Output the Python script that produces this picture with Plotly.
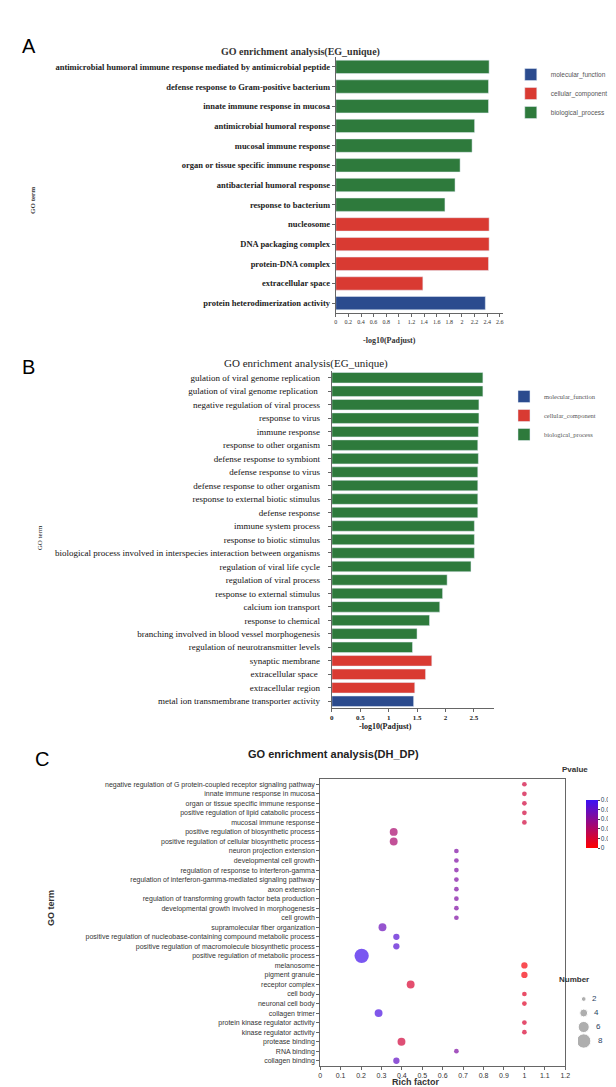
import plotly.graph_objects as go

# ---- panel A data ----
a_terms = ["antimicrobial humoral immune response mediated by antimicrobial peptide",
           "defense response to Gram-positive bacterium", "innate immune response in mucosa",
           "antimicrobial humoral response", "mucosal immune response",
           "organ or tissue specific immune response", "antibacterial humoral response",
           "response to bacterium", "nucleosome", "DNA packaging complex",
           "protein-DNA complex", "extracellular space", "protein heterodimerization activity"]
a_values = [2.43, 2.42, 2.42, 2.20, 2.16, 1.97, 1.89, 1.73, 2.43, 2.43, 2.42, 1.38, 2.37]
a_class = ["BP"] * 8 + ["CC"] * 4 + ["MF"]

# ---- panel B data ----
b_terms = ["gulation of viral genome replication", "gulation of viral genome replication ",
           "negative regulation of viral process", "response to virus", "immune response",
           "response to other organism", "defense response to symbiont",
           "defense response to virus", "defense response to other organism",
           "response to external biotic stimulus", "defense response", "immune system process",
           "response to biotic stimulus",
           "biological process involved in interspecies interaction between organisms",
           "regulation of viral life cycle", "regulation of viral process",
           "response to external stimulus", "calcium ion transport", "response to chemical",
           "branching involved in blood vessel morphogenesis",
           "regulation of neurotransmitter levels", "synaptic membrane",
           "extracellular space ", "extracellular region",
           "metal ion transmembrane transporter activity"]
b_values = [2.66, 2.66, 2.59, 2.59, 2.58, 2.57, 2.58, 2.57, 2.57, 2.57, 2.57, 2.51, 2.51,
            2.51, 2.45, 2.03, 1.95, 1.90, 1.72, 1.50, 1.42, 1.76, 1.65, 1.46, 1.44]
b_class = ["BP"] * 21 + ["CC"] * 3 + ["MF"]

# ---- panel C data ----
c_terms = ["negative regulation of G protein-coupled receptor signaling pathway",
           "innate immune response in mucosa", "organ or tissue specific immune response",
           "positive regulation of lipid catabolic process", "mucosal immune response",
           "positive regulation of biosynthetic process",
           "positive regulation of cellular biosynthetic process",
           "neuron projection extension", "developmental cell growth",
           "regulation of response to interferon-gamma",
           "regulation of interferon-gamma-mediated signaling pathway", "axon extension",
           "regulation of transforming growth factor beta production",
           "developmental growth involved in morphogenesis", "cell growth",
           "supramolecular fiber organization",
           "positive regulation of nucleobase-containing compound metabolic process",
           "positive regulation of macromolecule biosynthetic process",
           "positive regulation of metabolic process", "melanosome", "pigment granule",
           "receptor complex", "cell body", "neuronal cell body", "collagen trimer",
           "protein kinase regulator activity", "kinase regulator activity",
           "protease binding", "RNA binding", "collagen binding"]
c_rich = [1.0, 1.0, 1.0, 1.0, 1.0, 0.36, 0.36, 0.667, 0.667, 0.667, 0.667, 0.667, 0.667,
          0.667, 0.667, 0.305, 0.373, 0.373, 0.203, 1.0, 1.0, 0.443, 1.0, 1.0, 0.286,
          1.0, 1.0, 0.398, 0.667, 0.373]
c_number = [2, 2, 2, 2, 2, 4, 4, 2, 2, 2, 2, 2, 2, 2, 2, 4, 3, 3, 8, 3, 3, 4, 2, 2, 4,
            2, 2, 4, 2, 3]
c_pvalue = [0.012, 0.012, 0.012, 0.012, 0.012, 0.022, 0.022, 0.033, 0.033, 0.033, 0.033,
            0.033, 0.033, 0.033, 0.033, 0.038, 0.043, 0.043, 0.048, 0.002, 0.002, 0.010,
            0.008, 0.008, 0.046, 0.010, 0.010, 0.012, 0.033, 0.040]
size_legend = [2, 4, 6, 8]
pvalue_ticks = [0, 0.01, 0.02, 0.03, 0.04, 0.05]

W, H = 616, 1087
colors = {"MF": "#2b4b8e", "CC": "#d93a32", "BP": "#2e7a3c"}
names = {"MF": "molecular_function", "CC": "cellular_component", "BP": "biological_process"}
serif = "Liberation Serif"
sans = "Liberation Sans"


def px(x):
    return x / W


def py(y):
    return 1 - y / H


def dot(n):
    return 1.6 * n + 1.5


fig = go.Figure()

for cls in ["MF", "CC", "BP"]:
    ta = [t for t, c in zip(a_terms, a_class) if c == cls]
    va = [v for v, c in zip(a_values, a_class) if c == cls]
    fig.add_trace(go.Bar(x=va, y=ta, orientation="h", marker_color=colors[cls],
                         name=names[cls], xaxis="x", yaxis="y", legend="legend",
                         width=0.68))
for cls in ["MF", "CC", "BP"]:
    tb = [t for t, c in zip(b_terms, b_class) if c == cls]
    vb = [v for v, c in zip(b_values, b_class) if c == cls]
    fig.add_trace(go.Bar(x=vb, y=tb, orientation="h", marker_color=colors[cls],
                         name=names[cls], xaxis="x2", yaxis="y2", legend="legend2",
                         width=0.78))

fig.add_trace(go.Scatter(
    x=c_rich, y=c_terms, mode="markers", xaxis="x3", yaxis="y3", showlegend=False,
    marker=dict(size=[dot(n) for n in c_number], color=c_pvalue, cmin=0, cmax=0.05,
                colorscale=[[0, "#ff0000"], [1, "#3a10f5"]], line_width=0,
                colorbar=dict(x=px(582), xanchor="left", y=py(816), len=68 / H,
                              thickness=12, outlinewidth=0, tickvals=pvalue_ticks,
                              ticktext=[f"{v:g}" for v in pvalue_ticks],
                              ticks="outside", ticklen=2,
                              tickfont=dict(size=6.5, family=sans)))))

fig.add_trace(go.Scatter(
    x=[0] * 4, y=size_legend, mode="markers+text", xaxis="x4", yaxis="y4", showlegend=False,
    marker=dict(size=[dot(n) for n in size_legend], color="#8c8c8c"),
    text=["  " + str(n) for n in size_legend], textposition="middle right",
    textfont=dict(size=8, family=sans)))

axis_common = dict(showline=True, linecolor="#666", linewidth=1, ticks="outside",
                   ticklen=3, tickcolor="#666", showgrid=False, zeroline=False)

fig.update_layout(
    width=W, height=H, margin=dict(l=0, r=0, t=0, b=0),
    paper_bgcolor="white", plot_bgcolor="white", bargap=0.3,
    xaxis=dict(domain=[px(335), px(507)], range=[0, 2.65], anchor="y",
               tickvals=[i / 5 for i in range(14)],
               ticktext=["0", "0.2", "0.4", "0.6", "0.8", "1", "1.2", "1.4", "1.6", "1.8", "2",
                         "2.2", "2.4", "2.6"],
               tickfont=dict(size=6, family=serif, color="#333"), **axis_common),
    yaxis=dict(domain=[py(305), py(49)], anchor="x", categoryorder="array",
               categoryarray=a_terms, autorange="reversed",
               tickfont=dict(size=8.5, family=serif, color="#222", weight="bold"),
               **axis_common),
    xaxis2=dict(domain=[px(331), px(498)], range=[0, 2.86], anchor="y2",
                tickvals=[0, 0.5, 1, 1.5, 2, 2.5], ticktext=["0", "0.5", "1", "1.5", "2", "2.5"],
                tickfont=dict(size=7, family=serif, color="#222", weight="bold"),
                **axis_common),
    yaxis2=dict(domain=[py(700), py(363)], anchor="x2", categoryorder="array",
                categoryarray=b_terms, autorange="reversed", ticklabelstandoff=6,
                tickfont=dict(size=9, family=serif, color="#111"), **axis_common),
    xaxis3=dict(domain=[px(319), px(571)], range=[0, 1.2], anchor="y3", dtick=0.1,
                tickformat="~g", mirror=True,
                tickfont=dict(size=7, family=sans, color="#333"), **axis_common),
    yaxis3=dict(domain=[py(1058), py(771)], anchor="x3", categoryorder="array",
                categoryarray=c_terms, range=[29.55, -0.55], mirror=True,
                tickfont=dict(size=7, family=sans, color="#333"), **axis_common),
    xaxis4=dict(domain=[px(584), px(614)], range=[-1, 4], visible=False, anchor="y4"),
    yaxis4=dict(domain=[py(1040), py(984)], range=[9, 1], visible=False, anchor="x4"),
    legend=dict(x=px(515), y=py(52), xanchor="left", yanchor="top", traceorder="normal",
                font=dict(size=6.5, family=sans, color="#555"), itemwidth=30,
                tracegroupgap=0, bgcolor="rgba(0,0,0,0)"),
    legend2=dict(x=px(508), y=py(374), xanchor="left", yanchor="top", traceorder="normal",
                 font=dict(size=6.5, family=serif, color="#555"), itemwidth=30,
                 tracegroupgap=0, bgcolor="rgba(0,0,0,0)"),
)

ann = [
    ("A", 10, 25, 20, sans, "normal", "#000"),
    ("B", 10, 346, 20, sans, "normal", "#000"),
    ("C", 24, 764, 20, sans, "normal", "#000"),
    ("GO enrichment analysis(EG_unique)", 299, 36, 10, serif, "bold", "#333"),
    ("GO enrichment analysis(EG_unique)", 304, 347, 11, serif, "normal", "#222"),
    ("GO enrichment analysis(DH_DP)", 333, 754, 11, sans, "bold", "#222"),
    ("-log10(Padjust)", 420, 326, 8, serif, "bold", "#333"),
    ("-log10(Padjust)", 415, 725, 8, serif, "bold", "#222"),
    ("Rich factor", 444, 1081, 9, sans, "bold", "#333"),
    ("Pvalue", 596, 768, 8, sans, "bold", "#333"),
    ("Number", 598, 978, 8, sans, "bold", "#333"),
]
annotations = [dict(text=t, x=px(x), y=py(y), xref="paper", yref="paper", showarrow=False,
                    font=dict(size=s, family=f, weight=w, color=c))
               for t, x, y, s, f, w, c in ann]
annotations += [
    dict(text="GO term", x=px(18), y=py(177), xref="paper", yref="paper", showarrow=False,
         textangle=-90, font=dict(size=7, family=serif, weight="bold", color="#333")),
    dict(text="GO term", x=px(25), y=py(530), xref="paper", yref="paper", showarrow=False,
         textangle=-90, font=dict(size=7, family=serif, color="#222")),
    dict(text="GO term", x=px(35), y=py(920), xref="paper", yref="paper", showarrow=False,
         textangle=-90, font=dict(size=9, family=sans, weight="bold", color="#333")),
]
fig.update_layout(annotations=annotations)

fig.write_html("out.html")
